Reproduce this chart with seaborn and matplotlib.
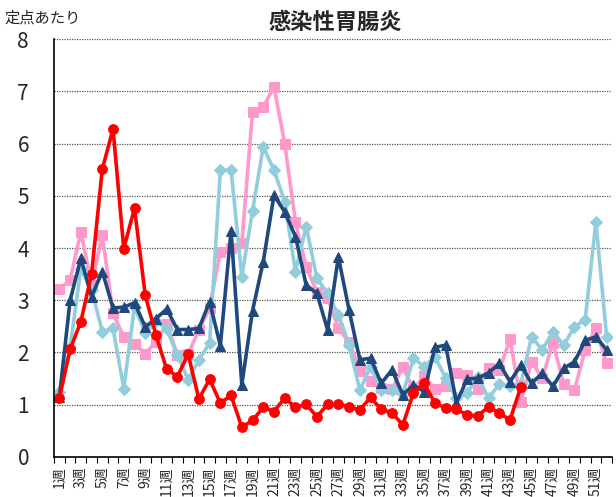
import matplotlib
matplotlib.use("Agg")
import matplotlib.pyplot as plt
import seaborn as sns
import numpy as np

weeks = list(range(1, 53))
week_labels = [f"{w}週" for w in weeks]

pink = [3.21, 3.39, 4.31, 3.30, 4.25, 2.75, 2.30, 2.16, 1.98, 2.20,
        2.55, 1.95, 1.97, 2.43, 2.85, 3.93, 4.00, 4.09, 6.61, 6.70,
        7.09, 6.00, 4.50, 3.64, 3.16, 3.05, 2.46, 2.20, 1.65, 1.45,
        1.33, 1.30, 1.72, 1.30, 1.55, 1.30, 1.35, 1.60, 1.57, 1.30,
        1.70, 1.67, 2.25, 1.06, 1.82, 1.51, 2.19, 1.40, 1.28, 2.05,
        2.46, 1.79]
light = [1.25, 2.10, 3.60, 3.20, 2.40, 2.46, 1.31, 2.88, 2.37, 2.60,
         2.45, 1.95, 1.48, 1.86, 2.18, 5.49, 5.49, 3.45, 4.71, 5.94,
         5.49, 4.89, 3.55, 4.41, 3.42, 3.13, 2.72, 2.14, 1.28, 1.73,
         1.28, 1.28, 1.20, 1.89, 1.73, 1.92, 1.51, 1.12, 1.22, 1.54,
         1.12, 1.40, 1.35, 1.40, 2.30, 2.05, 2.40, 2.14, 2.49, 2.63,
         4.50, 2.30]
navy = [1.15, 3.00, 3.80, 3.07, 3.55, 2.85, 2.87, 2.95, 2.49, 2.65,
        2.83, 2.44, 2.44, 2.46, 2.97, 2.13, 4.33, 1.38, 2.80, 3.74,
        5.01, 4.69, 4.22, 3.29, 3.13, 2.43, 3.83, 2.81, 1.86, 1.89,
        1.41, 1.67, 1.19, 1.38, 1.25, 2.10, 2.14, 1.04, 1.49, 1.51,
        1.61, 1.79, 1.44, 1.76, 1.41, 1.60, 1.35, 1.70, 1.82, 2.23,
        2.30, 2.05]
red = [1.13, 2.06, 2.59, 3.50, 5.51, 6.28, 3.99, 4.76, 3.10, 2.33,
       1.68, 1.54, 1.97, 1.11, 1.49, 1.03, 1.18, 0.57, 0.70, 0.95,
       0.87, 1.13, 0.95, 1.01, 0.77, 1.01, 1.01, 0.96, 0.90, 1.14,
       0.91, 0.85, 0.61, 1.23, 1.41, 1.03, 0.94, 0.92, 0.80, 0.79,
       0.96, 0.84, 0.71, 1.34]

sns.set_theme(style="white")
plt.rcParams['font.family'] = ['Noto Sans CJK JP', 'DejaVu Sans']

fig = plt.figure(figsize=(6.16, 4.97), dpi=100)
ax = fig.add_axes([0.0877, 0.0805, 0.9058, 0.841])

series = [
    (pink, "#FF99CC", "s", 6.5),
    (light, "#92CDDC", "D", 6.0),
    (navy, "#1F497D", "^", 7.0),
    (red, "#FF0000", "o", 7.0),
]
for vals, col, mk, ms in series:
    sns.lineplot(x=weeks[:len(vals)], y=vals, ax=ax, color=col, marker=mk,
                 markersize=ms, markeredgecolor=col, linewidth=2.6)

ax.set_xlim(0.5, 52.5)
ax.set_ylim(0, 8)
ax.set_yticks(range(0, 9))
ax.yaxis.grid(True, linestyle=(0, (1, 1)), color="#555555", linewidth=0.9)
ax.tick_params(axis='y', labelsize=15, length=0, pad=18)

ax.set_xticks(weeks[::2])
ax.set_xticklabels(week_labels[::2], rotation=90, fontsize=10)
ax.set_xticks(np.arange(0.5, 53, 1), minor=True)
ax.tick_params(axis='x', which='major', length=0, pad=7)
ax.tick_params(axis='x', which='minor', length=4, width=0.8, color='black',
               direction='out', bottom=True)

for s in ['top', 'right']:
    ax.spines[s].set_visible(False)
for s in ['left', 'bottom']:
    ax.spines[s].set_color('black')
    ax.spines[s].set_linewidth(1.2)

fig.text(0.008, 0.963, "定点あたり", fontsize=11, ha='left', va='center')
fig.text(0.545, 0.955, "感染性胃腸炎", fontsize=16, fontweight='bold',
         ha='center', va='center')

fig.savefig("out.png", dpi=100)
